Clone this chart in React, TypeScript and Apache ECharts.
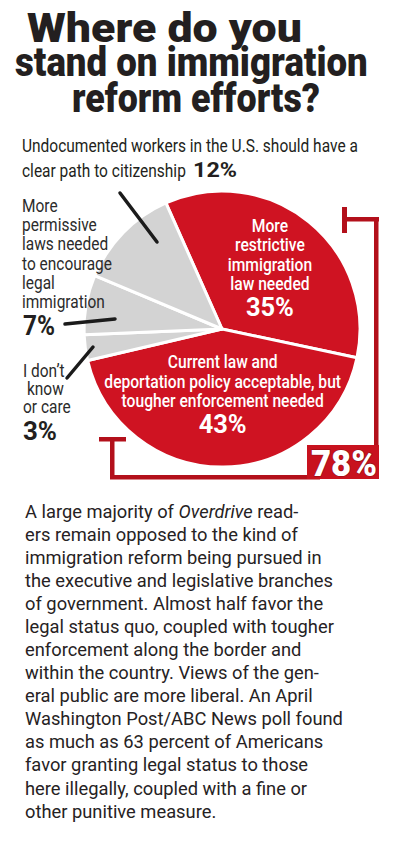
import React, { useEffect, useRef } from "react";
import * as echarts from "echarts";

// ---------- data ----------
const TITLE_LINES = ["Where do you", "stand on immigration", "reform efforts?"];
const SLICE_NAMES = [
  "More restrictive immigration law needed",
  "Current law and deportation policy acceptable, but tougher enforcement needed",
  "I don't know or care",
  "More permissive laws needed to encourage legal immigration",
  "Undocumented workers in the U.S. should have a clear path to citizenship",
];
const SLICE_VALUES = [35, 43, 3, 7, 12];
const SLICE_LABEL_LINES = [
  ["More", "restrictive", "immigration", "law needed"],
  ["Current law and", "deportation policy acceptable, but", "tougher enforcement needed"],
  ["I don\u2019t", "know", "or care"],
  ["More", "permissive", "laws needed", "to encourage", "legal", "immigration"],
  ["Undocumented workers in the U.S. should have a", "clear path to citizenship"],
];
const HIGHLIGHTED = [0, 1];
const BODY_LINES = [
  "A large majority of {i|Overdrive} read-",
  "ers remain opposed to the kind of",
  "immigration reform being pursued in",
  "the executive and legislative branches",
  "of government. Almost half favor the",
  "legal status quo, coupled with tougher",
  "enforcement along the border and",
  "within the country. Views of the gen-",
  "eral public are more liberal. An April",
  "Washington Post/ABC News poll found",
  "as much as 63 percent of Americans",
  "favor granting legal status to those",
  "here illegally, coupled with a fine or",
  "other punitive measure.",
];

// ---------- style ----------
const FONT = "Roboto";
const RED = "#cf1322";
const DARK_RED = "#b3101b";
const GRAY = "#d3d3d3";
const INK = "#231f20";
const PIE_CX = 222;
const PIE_CY = 329;
const PIE_R = 138;
const START_ANGLE = 114;

let _ctx: CanvasRenderingContext2D | null = null;
function measure(text: string, size: number, weight: string | number = "normal", style = "normal") {
  if (!_ctx) _ctx = document.createElement("canvas").getContext("2d");
  _ctx!.font = `${style} ${weight} ${size}px ${FONT}`;
  return _ctx!.measureText(text).width;
}

type TOpts = {
  size: number;
  weight?: string | number;
  fill?: string;
  align?: "left" | "center" | "right";
  scale?: number;
  italic?: boolean;
  stroke?: string;
  lineWidth?: number;
  rich?: any;
};
function txt(text: string, x: number, baseline: number, o: TOpts) {
  const align = o.align ?? "left";
  return {
    type: "text",
    z: 100,
    silent: true,
    x,
    y: baseline - 0.342 * o.size,
    scaleX: o.scale ?? 1,
    scaleY: 1,
    style: {
      text,
      fontSize: o.size,
      fontFamily: FONT,
      fontWeight: o.weight ?? "normal",
      fontStyle: o.italic ? "italic" : "normal",
      fill: o.fill ?? INK,
      stroke: o.stroke,
      lineWidth: o.lineWidth ?? 0,
      align,
      textAlign: align,
      verticalAlign: "middle",
      textVerticalAlign: "middle",
      rich: o.rich,
    },
  };
}
function fitted(text: string, x: number, baseline: number, width: number, o: TOpts) {
  const w = measure(text, o.size, o.weight ?? "normal");
  return txt(text, x, baseline, { ...o, scale: width / w });
}
function rect(x: number, y: number, w: number, h: number, fill: string) {
  return { type: "rect", z: 90, silent: true, shape: { x, y, width: w, height: h }, style: { fill } };
}
function seg(x1: number, y1: number, x2: number, y2: number) {
  return {
    type: "line",
    z: 95,
    silent: true,
    shape: { x1, y1, x2, y2 },
    style: { stroke: "#1b1b1b", lineWidth: 3.5, lineCap: "round" },
  };
}

function buildOption() {
  const total = SLICE_VALUES.reduce((a, b) => a + b, 0);
  let acc = START_ANGLE;
  const mids = SLICE_VALUES.map((v) => {
    const a = (v / total) * 360;
    const m = acc - a / 2;
    acc -= a;
    return m;
  });
  const pct = (i: number) => `${SLICE_VALUES[i]}%`;

  const g: any[] = [];

  // title
  const titleSpec = [
    { x: 27, base: 42, w: 275 },
    { x: 15, base: 76, w: 353 },
    { x: 72, base: 112, w: 248 },
  ];
  TITLE_LINES.forEach((t, i) => {
    const s = titleSpec[i];
    g.push(fitted(t, s.x, s.base, s.w, { size: 41, weight: 900 }));
  });

  // subtitle (12% slice label)
  const sub = SLICE_LABEL_LINES[4];
  const subScale = 336 / measure(sub[0], 19);
  g.push(txt(sub[0], 22, 152, { size: 19, scale: subScale }));
  g.push(txt(sub[1], 22, 177, { size: 19, scale: subScale }));
  g.push(fitted(pct(4), 193, 177, 44, { size: 20, weight: 700 }));

  // left labels (7% slice)
  const leftScale = 90 / measure("to encourage", 19);
  SLICE_LABEL_LINES[3].forEach((t, i) => {
    g.push(txt(t, 22, 212 + i * 19.2, { size: 19, scale: leftScale, fill: "#2b2b2b" }));
  });
  g.push(fitted(pct(3), 23, 335, 32, { size: 27, weight: 700 }));

  // 3% slice label
  const dk = SLICE_LABEL_LINES[2];
  g.push(txt(dk[0], 23, 377, { size: 19, scale: leftScale, fill: "#2b2b2b" }));
  g.push(txt(dk[1], 27, 395, { size: 19, scale: leftScale, fill: "#2b2b2b" }));
  g.push(txt(dk[2], 23, 413, { size: 19, scale: leftScale, fill: "#2b2b2b" }));
  g.push(fitted(pct(2), 23, 440, 34, { size: 25, weight: 700 }));

  // leader lines
  g.push(seg(120, 193, 157, 242));
  g.push(seg(65, 324, 115, 319));
  g.push(seg(67, 378, 93, 347));

  // labels inside the red slices
  const redScale = 237 / measure(SLICE_LABEL_LINES[1][1], 19, 500);
  const fractions = [0.575, 0.47];
  HIGHLIGHTED.forEach((si, k) => {
    const rad = (mids[si] * Math.PI) / 180;
    const ax = PIE_CX + fractions[k] * PIE_R * Math.cos(rad);
    const ay = PIE_CY - fractions[k] * PIE_R * Math.sin(rad);
    const lines = SLICE_LABEL_LINES[si];
    const step = 19.5;
    const gap = 26;
    const totalH = 13.5 + (lines.length - 1) * step + gap;
    const first = ay - totalH / 2 + 13.5;
    const cx = k === 0 ? ax - 2 : ax;
    lines.forEach((t, i) => {
      g.push(txt(t, cx, first + i * step, { size: 19, weight: 500, scale: redScale, fill: "#ffffff", align: "center" }));
    });
    const pb = first + (lines.length - 1) * step + gap;
    g.push(fitted(pct(si), cx, pb, 48, { size: 25, weight: 700, fill: "#ffffff", align: "center" }));
  });

  // bracket for the combined share
  g.push(rect(342, 207, 5, 26, DARK_RED));
  g.push(rect(344, 217, 35, 4.5, DARK_RED));
  g.push(rect(374, 217, 4.5, 232, DARK_RED));
  g.push(rect(99, 437, 27, 4.5, DARK_RED));
  g.push(rect(110, 437, 4.5, 42, DARK_RED));
  g.push(rect(110, 475, 210, 4.5, DARK_RED));
  g.push(rect(307, 445, 72, 34, "#c8121e"));
  const combined = HIGHLIGHTED.reduce((a, i) => a + SLICE_VALUES[i], 0);
  g.push(
    fitted(`${combined}%`, 344, 476, 66, {
      size: 37,
      weight: 900,
      fill: "#ffffff",
      align: "center",
      stroke: "#8e0c14",
      lineWidth: 1.2,
    })
  );

  // body text
  const bodyScale = 308 / measure(BODY_LINES[3], 19);
  BODY_LINES.forEach((t, i) => {
    g.push(
      txt(t, 25, 518 + i * 23.08, {
        size: 19,
        scale: bodyScale,
        fill: "#262223",
        rich: { i: { fontStyle: "italic", fontSize: 19, fontFamily: FONT, fill: "#262223" } },
      })
    );
  });

  return {
    animation: false,
    backgroundColor: "#ffffff",
    series: [
      {
        type: "pie",
        center: [PIE_CX, PIE_CY],
        radius: PIE_R,
        startAngle: START_ANGLE,
        clockwise: true,
        silent: true,
        label: { show: false },
        labelLine: { show: false },
        emphasis: { disabled: true },
        itemStyle: { borderColor: "#ffffff", borderWidth: 3 },
        data: SLICE_VALUES.map((v, i) => ({
          value: v,
          name: SLICE_NAMES[i],
          itemStyle: { color: HIGHLIGHTED.includes(i) ? RED : GRAY },
        })),
      },
    ],
    graphic: g,
  };
}

export default function App() {
  const ref = useRef<HTMLDivElement>(null);
  useEffect(() => {
    document.body.style.margin = "0";
    const chart = echarts.init(ref.current!, undefined, { renderer: "svg" });
    chart.setOption(buildOption() as any);
    return () => chart.dispose();
  }, []);
  return <div ref={ref} style={{ width: 400, height: 845 }} />;
}
